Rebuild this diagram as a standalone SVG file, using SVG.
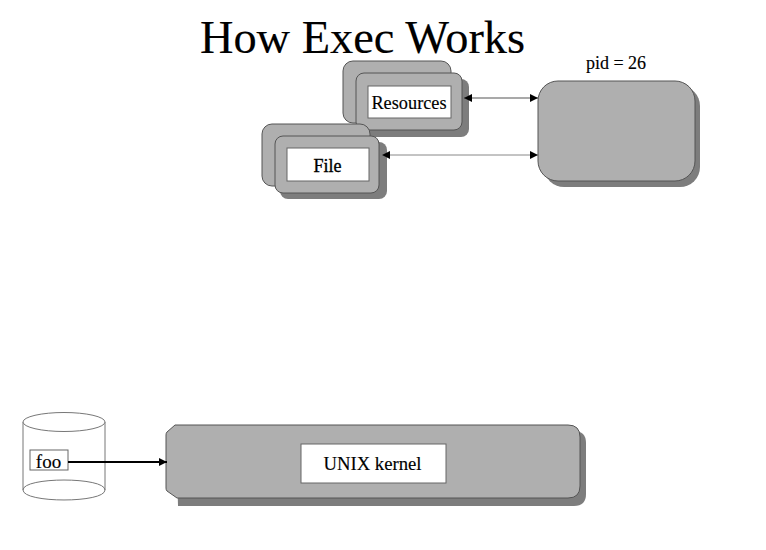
<svg xmlns="http://www.w3.org/2000/svg" width="766" height="550" viewBox="0 0 766 550">
<style>
text{font-family:"Liberation Serif","Times New Roman",serif;fill:#000;text-anchor:middle;stroke:#000;stroke-width:.15}
.body{fill:#afafaf;stroke:#555;stroke-width:1}
.shadow{fill:#7d7d7d}
.inner{fill:#fff;stroke:#666;stroke-width:1}
.ln{fill:none;stroke:#777;stroke-width:1}
.cyl{fill:#fff;stroke:#777;stroke-width:1}
</style>
<defs>
<marker id="arrow" markerUnits="userSpaceOnUse" markerWidth="9" markerHeight="8" refX="8" refY="4" orient="auto-start-reverse"><path d="M0 0L8 4L0 8Z" fill="#000"/></marker>
</defs>
<rect width="766" height="550" fill="#fff"/>
<text id="title" x="362.500" y="53" font-size="46.400">How Exec Works</text>
<g id="process">
<text x="616" y="68.500" font-size="18">pid = 26</text>
<rect class="shadow" x="544" y="86" width="156" height="101" rx="20"/>
<rect class="body" x="538" y="81" width="157" height="100" rx="20"/>
</g>
<g id="resources">
<rect class="body" x="343" y="61" width="108" height="62" rx="10"/>
<rect class="shadow" x="361" y="79" width="108" height="58" rx="8"/>
<rect class="body" x="356" y="73" width="106" height="57" rx="8"/>
<rect class="inner" x="368" y="86" width="83" height="32"/>
<text x="409" y="108.500" font-size="18.300">Resources</text>
</g>
<g id="file">
<rect class="body" x="262" y="124" width="108" height="62" rx="10"/>
<rect class="shadow" x="280" y="142" width="107" height="57" rx="8"/>
<rect class="body" x="275" y="136" width="104" height="57" rx="8"/>
<rect class="inner" x="287" y="148" width="82" height="33"/>
<text x="327.500" y="171.500" font-size="18" style="stroke-width:.35">File</text>
</g>
<g id="disk">
<path class="cyl" d="M23 422V490C23 503.300 105 503.300 105 490V422"/>
<ellipse class="cyl" cx="64" cy="422" rx="41" ry="9.500"/>
<path class="ln" d="M23 490C23 476.700 105 476.700 105 490"/>
<rect class="inner" x="30" y="450" width="38" height="20"/>
<text x="48.500" y="467.500" font-size="19">foo</text>
</g>
<g id="kernel">
<path class="shadow" d="M176 431H574Q586 431 586 443V494Q586 506 574 506H178Z"/>
<path class="body" d="M175 425H568Q580 425 580 437V486Q580 498 568 498H177L167 491Q166 490 166 488V435Q166 433 167 432Z"/>
<rect class="inner" x="301" y="444" width="145" height="39"/>
<text x="372.500" y="470" font-size="18.700">UNIX kernel</text>
</g>
<g id="connectors">
<line x1="464" y1="98" x2="538" y2="98" stroke="#555" stroke-width="1.200" marker-start="url(#arrow)" marker-end="url(#arrow)"/>
<line x1="382" y1="155" x2="538" y2="155" stroke="#888" stroke-width="1" marker-start="url(#arrow)" marker-end="url(#arrow)"/>
<line x1="68" y1="462" x2="167" y2="462" stroke="#000" stroke-width="2" marker-end="url(#arrow)"/>
</g>
</svg>
